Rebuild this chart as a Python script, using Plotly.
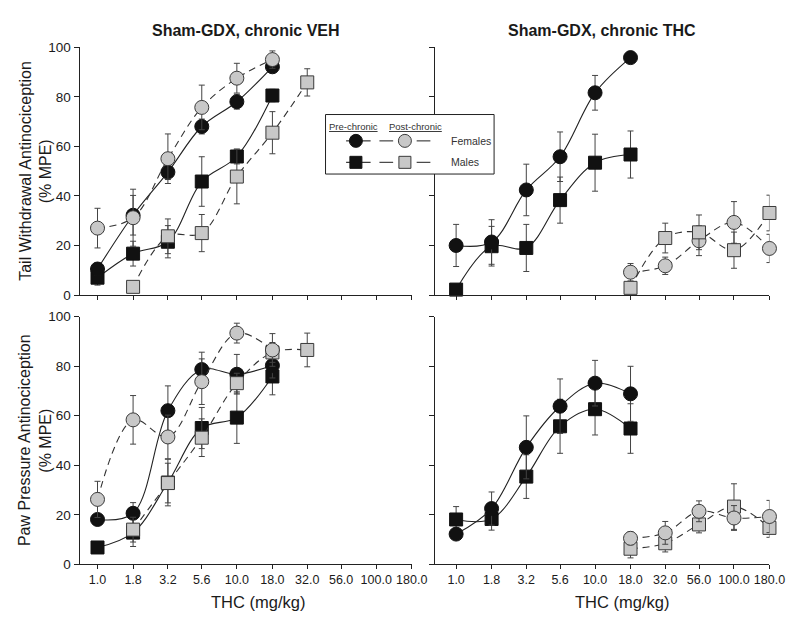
import math
import plotly.graph_objects as go

W, H = 800, 618

# ---------------- data ----------------
doses = [1.0, 1.8, 3.2, 5.6, 10.0, 18.0, 32.0, 56.0, 100.0, 180.0]
dose_labels = ["1.0", "1.8", "3.2", "5.6", "10.0", "18.0", "32.0", "56.0", "100.0", "180.0"]
y_ticks = [0, 20, 40, 60, 80, 100]

# Panel A: Tail withdrawal, chronic VEH
tw_veh_preF_x = doses[0:6]
tw_veh_preF_y = [10.5, 32.2, 49.6, 68.0, 78.0, 92.1]
tw_veh_preF_e = [2.5, 8.0, 3.0, 3.0, 3.0, 2.0]
tw_veh_postF_x = doses[0:6]
tw_veh_postF_y = [27.0, 31.2, 55.0, 75.7, 87.5, 95.0]
tw_veh_postF_e = [8.0, 11.5, 10.0, 9.0, 6.0, 3.5]
tw_veh_preM_x = doses[0:6]
tw_veh_preM_y = [7.0, 16.7, 21.5, 45.8, 55.9, 80.5]
tw_veh_preM_e = [3.0, 5.0, 6.5, 10.0, 3.0, 2.5]
tw_veh_postM_x = doses[1:7]
tw_veh_postM_y = [3.3, 23.7, 25.0, 47.8, 65.5, 85.8]
tw_veh_postM_e = [2.0, 7.0, 7.5, 11.0, 8.5, 5.5]

# Panel B: Tail withdrawal, chronic THC
tw_thc_preF_x = doses[0:6]
tw_thc_preF_y = [20.0, 21.4, 42.4, 55.8, 81.6, 95.8]
tw_thc_preF_e = [8.5, 9.0, 10.4, 10.0, 7.0, 1.5]
tw_thc_preM_x = doses[0:6]
tw_thc_preM_y = [2.2, 19.7, 19.0, 38.3, 53.4, 56.7]
tw_thc_preM_e = [1.5, 8.0, 9.5, 9.3, 11.5, 9.5]
tw_thc_postF_x = doses[5:10]
tw_thc_postF_y = [9.2, 11.8, 21.9, 29.3, 18.8]
tw_thc_postF_e = [3.5, 3.5, 6.0, 8.4, 5.7]
tw_thc_postM_x = doses[5:10]
tw_thc_postM_y = [2.9, 23.0, 25.3, 18.1, 33.1]
tw_thc_postM_e = [1.5, 6.0, 7.0, 7.3, 7.2]

# Panel C: Paw pressure, chronic VEH
pp_veh_preF_x = doses[0:6]
pp_veh_preF_y = [18.1, 20.6, 62.0, 78.6, 76.7, 80.2]
pp_veh_preF_e = [2.0, 4.3, 10.0, 7.0, 8.0, 5.0]
pp_veh_postF_x = doses[0:6]
pp_veh_postF_y = [26.2, 58.3, 51.4, 73.7, 93.3, 86.5]
pp_veh_postF_e = [7.3, 9.8, 8.8, 9.2, 4.0, 6.6]
pp_veh_preM_x = doses[0:6]
pp_veh_preM_y = [6.8, 12.8, 33.0, 55.0, 59.2, 75.8]
pp_veh_preM_e = [2.0, 5.6, 9.4, 8.3, 10.4, 7.4]
pp_veh_postM_x = doses[1:7]
pp_veh_postM_y = [14.0, 32.8, 51.1, 73.1, 85.5, 86.5]
pp_veh_postM_e = [5.0, 8.0, 7.6, 4.0, 4.0, 6.8]

# Panel D: Paw pressure, chronic THC
pp_thc_preF_x = doses[0:6]
pp_thc_preF_y = [12.2, 22.5, 47.2, 63.8, 73.1, 68.8]
pp_thc_preF_e = [2.0, 6.7, 12.7, 11.0, 9.2, 11.1]
pp_thc_preM_x = doses[0:6]
pp_thc_preM_y = [18.1, 18.3, 35.4, 55.7, 62.6, 54.8]
pp_thc_preM_e = [5.2, 4.5, 8.8, 10.9, 10.4, 10.0]
pp_thc_postF_x = doses[5:10]
pp_thc_postF_y = [10.5, 12.7, 21.4, 18.7, 19.3]
pp_thc_postF_e = [2.6, 4.6, 4.2, 5.0, 6.5]
pp_thc_postM_x = doses[5:10]
pp_thc_postM_y = [6.3, 8.5, 16.1, 23.3, 14.7]
pp_thc_postM_e = [3.7, 3.5, 3.4, 9.2, 3.8]

panel_titles = ["Sham-GDX, chronic VEH", "Sham-GDX, chronic THC"]
row_titles = [("Tail Withdrawal Antinociception", "(% MPE)"),
              ("Paw Pressure Antinociception", "(% MPE)")]
x_title = "THC (mg/kg)"
legend_headers = ["Pre-chronic", "Post-chronic"]
legend_groups = ["Females", "Males"]

# ---------------- styles ----------------
FONT = "Liberation Sans, Arial, sans-serif"
BLACK = "#111111"
GRAY = "#c8c8c8"
EDGE = "#3a3a3a"
ERRC = "#444444"
TXT = "#1a1a1a"


def px(x):
    return x / W


def py(y):
    return 1 - y / H


fig = go.Figure()


def add_series(x, y, e, xa, ya, filled, symbol):
    fig.add_trace(go.Scatter(
        x=x, y=y, xaxis=xa, yaxis=ya, mode="lines+markers",
        line=dict(color="#222222" if filled else "#333333", width=1.1,
                  shape="spline", smoothing=1.0,
                  dash="solid" if filled else "7px,5px"),
        marker=dict(symbol=symbol, size=14 if symbol == "circle" else 13,
                    color=BLACK if filled else GRAY,
                    line=dict(color=BLACK if filled else EDGE, width=1)),
        error_y=dict(type="data", array=e, visible=True, color=ERRC,
                     thickness=1, width=3),
        cliponaxis=False, showlegend=False, hoverinfo="x+y"))


panels = [
    ("x", "y", [(tw_veh_preM_x, tw_veh_preM_y, tw_veh_preM_e, True, "square"),
                (tw_veh_preF_x, tw_veh_preF_y, tw_veh_preF_e, True, "circle"),
                (tw_veh_postM_x, tw_veh_postM_y, tw_veh_postM_e, False, "square"),
                (tw_veh_postF_x, tw_veh_postF_y, tw_veh_postF_e, False, "circle")]),
    ("x2", "y2", [(tw_thc_preM_x, tw_thc_preM_y, tw_thc_preM_e, True, "square"),
                  (tw_thc_preF_x, tw_thc_preF_y, tw_thc_preF_e, True, "circle"),
                  (tw_thc_postF_x, tw_thc_postF_y, tw_thc_postF_e, False, "circle"),
                  (tw_thc_postM_x, tw_thc_postM_y, tw_thc_postM_e, False, "square")]),
    ("x3", "y3", [(pp_veh_preM_x, pp_veh_preM_y, pp_veh_preM_e, True, "square"),
                  (pp_veh_preF_x, pp_veh_preF_y, pp_veh_preF_e, True, "circle"),
                  (pp_veh_postM_x, pp_veh_postM_y, pp_veh_postM_e, False, "square"),
                  (pp_veh_postF_x, pp_veh_postF_y, pp_veh_postF_e, False, "circle")]),
    ("x4", "y4", [(pp_thc_preM_x, pp_thc_preM_y, pp_thc_preM_e, True, "square"),
                  (pp_thc_preF_x, pp_thc_preF_y, pp_thc_preF_e, True, "circle"),
                  (pp_thc_postM_x, pp_thc_postM_y, pp_thc_postM_e, False, "square"),
                  (pp_thc_postF_x, pp_thc_postF_y, pp_thc_postF_e, False, "circle")]),
]
for xa, ya, series in panels:
    for x, y, e, filled, sym in series:
        add_series(x, y, e, xa, ya, filled, sym)

# ---------------- axes ----------------
x_left = [73, 412]
x_right = [436, 777]
y_top = [33, 287]
y_bot = [309, 563]
xr_left = [math.log10(doses[0]) - 0.129, math.log10(doses[-1])]
xr_right = [math.log10(doses[0]) - 0.15, math.log10(doses[-1])]


def xaxis(dom, rng, anchor, labels):
    return dict(domain=[px(dom[0]), px(dom[1])], type="log", range=rng,
                tickvals=doses, ticktext=dose_labels, showticklabels=labels,
                ticks="outside", ticklen=4, tickwidth=1, tickcolor="#222",
                showline=True, linecolor="#222", linewidth=1,
                showgrid=False, zeroline=False, anchor=anchor,
                tickfont=dict(family=FONT, size=12.5, color=TXT))


def yaxis(dom, anchor, labels):
    return dict(domain=[py(dom[1]), py(dom[0])], range=[0, 100],
                tickvals=y_ticks, showticklabels=labels,
                ticks="outside", ticklen=5, tickwidth=1, tickcolor="#222",
                showline=True, linecolor="#222", linewidth=1,
                showgrid=False, zeroline=False, anchor=anchor,
                tickfont=dict(family=FONT, size=13.5, color=TXT))


fig.update_layout(
    xaxis=xaxis(x_left, xr_left, "y", False),
    yaxis=yaxis(y_top, "x", True),
    xaxis2=xaxis(x_right, xr_right, "y2", False),
    yaxis2=yaxis(y_top, "x2", False),
    xaxis3=xaxis(x_left, xr_left, "y3", True),
    yaxis3=yaxis(y_bot, "x3", True),
    xaxis4=xaxis(x_right, xr_right, "y4", True),
    yaxis4=yaxis(y_bot, "x4", False),
    # pixel-space overlay used only for the hand-built legend
    xaxis5=dict(domain=[0, 1], range=[0, W], visible=False, anchor="y5", fixedrange=True),
    yaxis5=dict(domain=[0, 1], range=[H, 0], visible=False, anchor="x5", fixedrange=True),
)

# ---------------- legend (hand built, pixel coordinates) ----------------
box_l, box_r, box_t, box_b = 324, 496, 102, 163
fig.add_trace(go.Scatter(x=[box_l, box_r, box_r, box_l, box_l],
                         y=[box_t, box_t, box_b, box_b, box_t],
                         xaxis="x5", yaxis="y5", mode="lines", fill="toself",
                         fillcolor="white", line=dict(color="#222", width=1),
                         showlegend=False, hoverinfo="skip"))
lx_pre, lx_post = 355, 405
ly_f, ly_m = 129, 151
for ly, sym in [(ly_f, "circle"), (ly_m, "square")]:
    fig.add_trace(go.Scatter(x=[345, 370], y=[ly, ly], xaxis="x5", yaxis="y5",
                             mode="lines", line=dict(color="#222", width=1.1),
                             showlegend=False, hoverinfo="skip"))
    fig.add_trace(go.Scatter(x=[379, 393, None, 417, 431], y=[ly, ly, None, ly, ly],
                             xaxis="x5", yaxis="y5", mode="lines",
                             line=dict(color="#333", width=1.1),
                             showlegend=False, hoverinfo="skip"))
    fig.add_trace(go.Scatter(x=[lx_pre], y=[ly], xaxis="x5", yaxis="y5", mode="markers",
                             marker=dict(symbol=sym, size=13 if sym == "circle" else 12,
                                         color=BLACK, line=dict(color=BLACK, width=1)),
                             showlegend=False, hoverinfo="skip"))
    fig.add_trace(go.Scatter(x=[lx_post], y=[ly], xaxis="x5", yaxis="y5", mode="markers",
                             marker=dict(symbol=sym, size=13 if sym == "circle" else 12,
                                         color=GRAY, line=dict(color=EDGE, width=1)),
                             showlegend=False, hoverinfo="skip"))

ann = []


def text(x, y, s, size, angle=0, xanchor="center", color=TXT):
    ann.append(dict(x=px(x), y=py(y), xref="paper", yref="paper", text=s,
                    showarrow=False, textangle=angle, xanchor=xanchor, yanchor="middle",
                    font=dict(family=FONT, size=size, color=color)))


text(353, 114, "<u>" + legend_headers[0] + "</u>", 9.5, color="#333")
text(416, 114, "<u>" + legend_headers[1] + "</u>", 9.5, color="#333")
text(450, 129, legend_groups[0], 10.5, xanchor="left", color="#333")
text(450, 151, legend_groups[1], 10.5, xanchor="left", color="#333")

text(243, 16, "<b>" + panel_titles[0] + "</b>", 16)
text(606, 16, "<b>" + panel_titles[1] + "</b>", 16)

text(17, 160, row_titles[0][0], 16, angle=-90)
text(38, 160, row_titles[0][1], 16, angle=-90)
text(17, 436, row_titles[1][0], 16, angle=-90)
text(38, 436, row_titles[1][1], 16, angle=-90)

text(255, 602, x_title, 16.5)
text(627, 602, x_title, 16.5)

fig.update_layout(
    width=W, height=H, margin=dict(l=0, r=0, t=0, b=0),
    paper_bgcolor="white", plot_bgcolor="rgba(0,0,0,0)",
    annotations=ann, showlegend=False,
    font=dict(family=FONT),
)

fig.write_html("out.html")
